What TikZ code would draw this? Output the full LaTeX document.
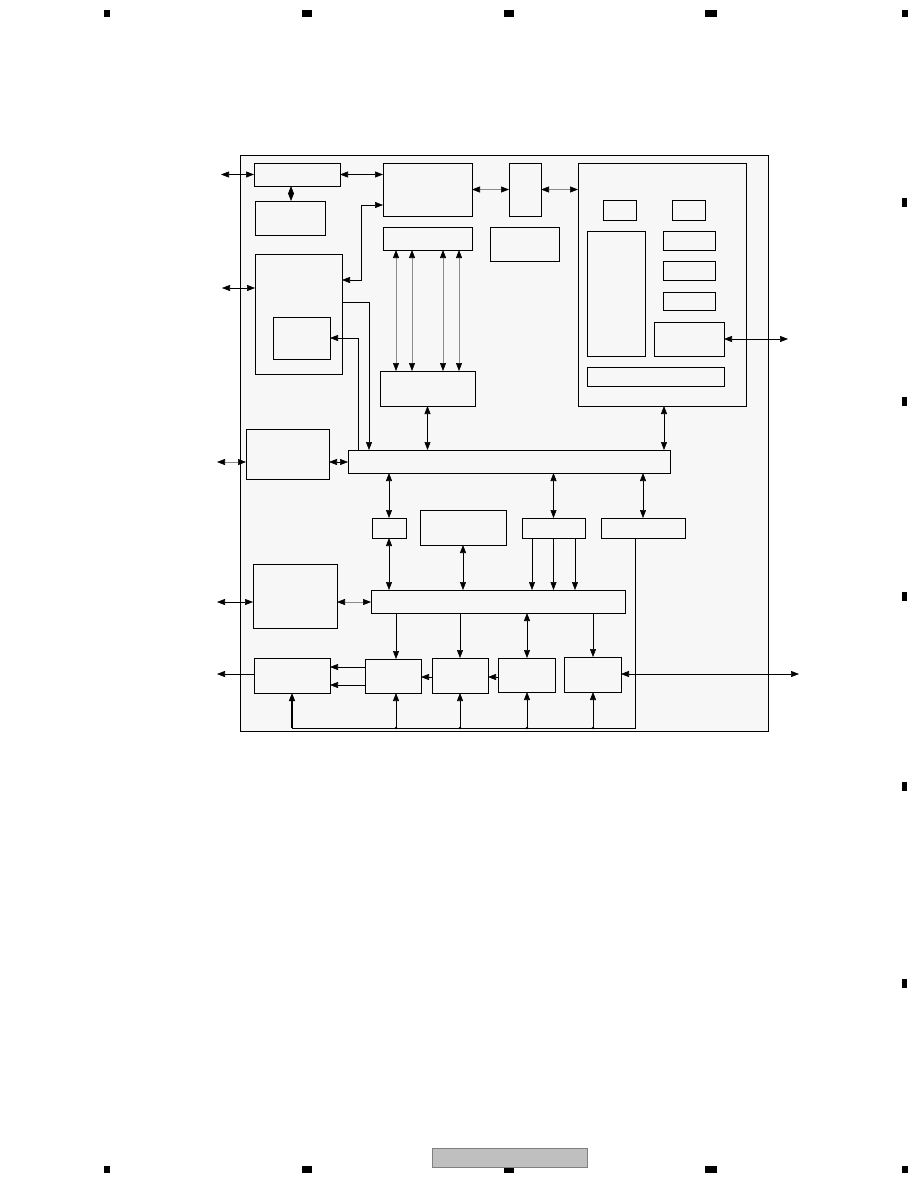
\documentclass[tikz,border=0pt]{standalone}
\usepackage{tikz}
\usetikzlibrary{arrows.meta}

\begin{document}
\begin{tikzpicture}[x=1pt,y=-1pt,>={Triangle[length=8pt,width=6pt,color=black]}]
  \tikzset{blockbox/.style 2 args={draw=black,fill=black!3,line width=1pt,inner sep=0pt,outer sep=0pt,minimum width=#1,minimum height=#2}}
  \tikzset{wire/.style={draw=black,line width=0.6pt}}
  \tikzset{greywire/.style={draw=black!45,line width=0.6pt}}
  \tikzset{buswire/.style={draw=black,line width=1.2pt}}
  \tikzset{busdot/.style={circle,fill=black,inner sep=0pt,minimum size=2.6pt}}
  \tikzset{pagemark/.style={fill=black}}
  \useasboundingbox (0,0) rectangle (918,1188);
  \fill[white] (0,0) rectangle (918,1188);
  % outer frame
  \node[blockbox={527.5pt}{575.5pt},line width=0.7pt] (frame) at (504.25,443.25) {};
  % upper left column
  \node[blockbox={86pt}{23pt}] (bA) at (297,174.5) {};
  \node[blockbox={70pt}{34pt}] (bB) at (290,218) {};
  \node[blockbox={87pt}{120pt}] (bH) at (298.5,314) {};
  \node[blockbox={57pt}{42pt}] (bI) at (301.5,338) {};
  % upper middle
  \node[blockbox={89pt}{53pt}] (bC) at (427.5,189.5) {};
  \node[blockbox={89pt}{23pt}] (bD) at (427.5,238.5) {};
  \node[blockbox={32pt}{53pt}] (bE) at (525,189.5) {};
  \node[blockbox={69pt}{34pt},line width=0.6pt] (bG) at (524.5,244) {};
  \node[blockbox={95pt}{35pt},line width=0.6pt] (bK) at (427.5,388.5) {};
  % right panel
  \node[blockbox={168pt}{243pt},line width=0.7pt] (bF) at (662,284.5) {};
  \node[blockbox={33pt}{20pt}] (bF1) at (619.5,210) {};
  \node[blockbox={33pt}{20pt}] (bF2) at (688.5,210) {};
  \node[blockbox={58pt}{125pt}] (bF3) at (616,293.5) {};
  \node[blockbox={52pt}{19pt}] (bF4) at (689,240.5) {};
  \node[blockbox={52pt}{19pt}] (bF5) at (689,270.5) {};
  \node[blockbox={52pt}{18pt}] (bF6) at (689,301) {};
  \node[blockbox={70pt}{34pt},line width=0.7pt] (bF7) at (689,339) {};
  \node[blockbox={137pt}{19pt},line width=0.7pt] (bF8) at (655.5,376.5) {};
  % main bus and row below
  \node[blockbox={322pt}{23pt},line width=0.7pt] (bJ) at (509,461.5) {};
  \node[blockbox={83pt}{50pt}] (bL) at (287.5,454) {};
  \node[blockbox={34pt}{20pt}] (bM) at (389,528) {};
  \node[blockbox={86pt}{35pt}] (bN) at (463,527.5) {};
  \node[blockbox={63pt}{20pt}] (bO) at (553.5,528) {};
  \node[blockbox={84pt}{20pt}] (bP) at (643,528) {};
  % second bus
  \node[blockbox={254pt}{23pt},line width=0.7pt] (bQ) at (498,601.5) {};
  \node[blockbox={84pt}{64pt}] (bR) at (295,596) {};
  % bottom row
  \node[blockbox={76pt}{35pt}] (bS) at (292,675.5) {};
  \node[blockbox={56pt}{34pt}] (bT) at (393,676) {};
  \node[blockbox={56pt}{35pt}] (bU) at (460,675.5) {};
  \node[blockbox={57pt}{34pt}] (bV) at (526.5,675) {};
  \node[blockbox={57pt}{35pt}] (bW) at (592.5,674.5) {};
  % free ends
  \coordinate (pA) at (221,174.5);
  \coordinate (pH) at (222,288);
  \coordinate (pL) at (217,462);
  \coordinate (pR) at (217,602);
  \coordinate (pS) at (217,674);
  \coordinate (pF) at (788,339);
  \coordinate (pW) at (799,674);
  \coordinate (busL) at (292,728);
  \coordinate (busR) at (635,728);
  % connectors, top
  \draw[wire,<->] (pA) -- (bA.west);
  \draw[wire,<->] (bA.south -| 291,0) -- (bB.north -| 291,0);
  \draw[wire,<->] (bA.east) -- (bC.west |- bA.east);
  \draw[greywire,<->] (bC.east) -- (bE.west);
  \draw[greywire,<->] (bE.east) -- (bF.west |- bE.east);
  \draw[wire,<->] (bC.west |- 0,205) -| (361,280) -- (bH.east |- 0,280);
  \draw[wire,<->] (pH) -- (bH.west |- pH);
  \draw[wire,->] (bH.east |- 0,302) -| (bJ.north -| 369,0);
  \draw[wire,->] (bJ.north -| 358,0) |- (bI.east |- 0,338);
  \foreach \wx in {396,412,443,459}
    \draw[greywire,<->] (bD.south -| \wx,0) -- (bK.north -| \wx,0);
  \draw[wire,<->] (bK.south) -- (bJ.north -| bK.south);
  \draw[wire,<->] (bF.south -| 664,0) -- (bJ.north -| 664,0);
  \draw[wire,<->] (bF7.east) -- (pF);
  % connectors, middle
  \draw[greywire,<->] (pL) -- (bL.west |- pL);
  \draw[wire,<->] (bL.east |- 0,462) -- (bJ.west |- 0,462);
  \draw[wire,<->] (bJ.south -| bM.north) -- (bM.north);
  \draw[wire,<->] (bM.south) -- (bQ.north -| bM.south);
  \draw[wire,<->] (bN.south) -- (bQ.north -| bN.south);
  \draw[wire,<->] (bJ.south -| bO.north) -- (bO.north);
  \draw[wire,<->] (bJ.south -| bP.north) -- (bP.north);
  \foreach \wx in {532,553.5,575}
    \draw[wire,->] (bO.south -| \wx,0) -- (bQ.north -| \wx,0);
  \draw[wire,<->] (pR) -- (bR.west |- pR);
  \draw[greywire,<->] (bR.east |- 0,602) -- (bQ.west |- 0,602);
  % connectors, bottom
  \draw[wire,->] (bS.west |- pS) -- (pS);
  \draw[wire,->] (bT.west |- 0,667) -- (bS.east |- 0,667);
  \draw[wire,->] (bT.west |- 0,685) -- (bS.east |- 0,685);
  \draw[wire,->] (bU.west |- 0,677) -- (bT.east |- 0,677);
  \draw[wire,->] (bV.west |- 0,677) -- (bU.east |- 0,677);
  \draw[wire,<->] (bW.east |- pW) -- (pW);
  \draw[wire,->] (bQ.south -| 396,0) -- (bT.north -| 396,0);
  \draw[wire,->] (bQ.south -| 460,0) -- (bU.north -| 460,0);
  \draw[wire,<->] (bQ.south -| 527,0) -- (bV.north -| 527,0);
  \draw[wire,->] (bQ.south -| 593,0) -- (bW.north -| 593,0);
  \draw[wire] (bP.south -| busR) -- (busR) -- (busL);
  \draw[buswire,->] (busL) -- (bS.south -| busL);
  \foreach \wx/\wn in {396/bT,460/bU,527/bV,593/bW} {
    \node[busdot] at (busL -| \wx,0) {};
    \draw[wire,->] (busL -| \wx,0) -- (\wn.south -| \wx,0);
  }
  % page marks
  \foreach \mx/\mw in {107/6,307/10,509/10,711/12,905/6} {
    \fill[pagemark] (\mx-\mw/2,10) rectangle (\mx+\mw/2,17);
    \fill[pagemark] (\mx-\mw/2,1166) rectangle (\mx+\mw/2,1173);
  }
  \foreach \my in {202,401,596,786,983}
    \fill[pagemark] (902,\my-4.5) rectangle (907,\my+4.5);
  \draw[draw=black!50,fill=black!25,line width=0.6pt] (432,1148) rectangle (587,1167);
\end{tikzpicture}
\end{document}
